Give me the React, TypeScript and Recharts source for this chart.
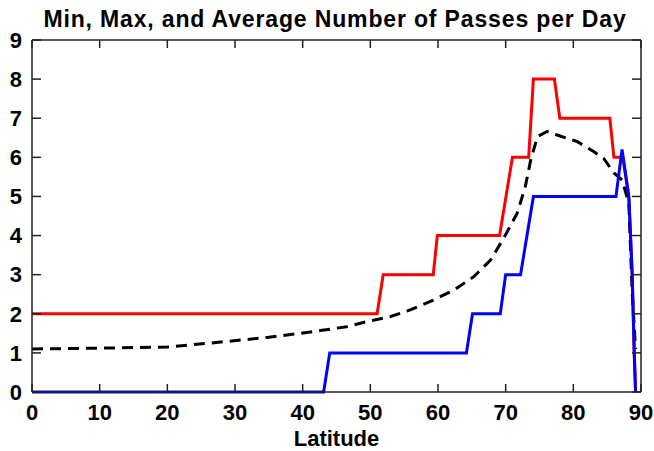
import { LineChart, Line, XAxis, YAxis } from "recharts";

// latitude (deg) / passes per day
const maxLat = [0, 51.0, 51.9, 59.3, 59.9, 69.1, 71.0, 73.4, 74.1, 77.2, 78.0, 85.4, 86.0, 87.3, 88.2, 88.7, 89.0, 89.2];
const maxPasses = [2, 2, 3, 3, 4, 4, 6, 6, 8, 8, 7, 7, 6, 6, 5, 3, 1, 0];

const minLat = [0, 43.1, 44.0, 64.2, 65.1, 69.2, 70.0, 72.2, 74.1, 86.3, 87.2, 88.2, 88.7, 89.0, 89.2];
const minPasses = [0, 0, 1, 1, 2, 2, 3, 3, 5, 5, 6.2, 5, 3, 1, 0];

const avgLat = [0, 10, 20, 28.7, 35, 39.6, 42.6, 46.5, 49.5, 53, 55.9, 59.3, 62.3, 65.3, 67.8, 69.7, 71.7, 72.9, 73.7, 74.7, 76.1, 77.6, 80.6, 83, 84.5, 86, 87.2, 88.2, 88.7, 89.2];
const avgPasses = [1.1, 1.12, 1.15, 1.29, 1.4, 1.5, 1.57, 1.67, 1.8, 1.93, 2.1, 2.35, 2.6, 2.95, 3.38, 3.93, 4.57, 5.25, 5.93, 6.53, 6.66, 6.57, 6.4, 6.15, 5.97, 5.6, 5.42, 4.83, 2.53, 1.1];

const xTicks = [0, 10, 20, 30, 40, 50, 60, 70, 80, 90];
const yTicks = [0, 1, 2, 3, 4, 5, 6, 7, 8, 9];

const toRows = (xs: number[], ys: number[]) => xs.map((lat, i) => ({ lat, v: ys[i] }));

const maxData = toRows(maxLat, maxPasses);
const minData = toRows(minLat, minPasses);
const avgData = toRows(avgLat, avgPasses);

const font = "'Liberation Sans', Arial, sans-serif";
const tickFont = { fill: "#000", fontSize: 22, fontWeight: 700, fontFamily: font };
const frame = { stroke: "#222", strokeWidth: 1.5 };
const noLabel = () => <g />;

export default function App() {
  return (
    <div style={{ position: "absolute", left: 0, top: 0, width: 654, height: 451, background: "#fff" }}>
      <div
        style={{
          position: "absolute",
          left: 0,
          top: 6,
          width: 654,
          textAlign: "center",
          fontFamily: font,
          fontWeight: 700,
          fontSize: 23,
          letterSpacing: 0.85,
          paddingLeft: 16,
          boxSizing: "border-box",
        }}
      >
        Min, Max, and Average Number of Passes per Day
      </div>
      <LineChart width={654} height={451} margin={{ top: 40, right: 13, bottom: 0, left: 0 }}>
        <XAxis
          xAxisId={0}
          type="number"
          dataKey="lat"
          domain={[0, 90]}
          ticks={xTicks}
          tickLine={false}
          axisLine={frame}
          tickSize={8}
          tickMargin={4}
          tick={tickFont}
          height={59}
          allowDuplicatedCategory={false}
          label={{ value: "Latitude", position: "insideBottom", offset: 5, style: tickFont }}
        />
        <XAxis xAxisId="bt" type="number" dataKey="lat" domain={[0, 90]} ticks={xTicks} mirror tick={noLabel} tickSize={8} axisLine={false} tickLine={frame} />
        <XAxis xAxisId="top" orientation="top" type="number" dataKey="lat" domain={[0, 90]} ticks={xTicks} mirror tick={noLabel} tickSize={8} axisLine={frame} tickLine={frame} />
        <YAxis
          yAxisId={0}
          type="number"
          domain={[0, 9]}
          ticks={yTicks}
          tickLine={false}
          axisLine={frame}
          tickSize={4}
          tickMargin={6}
          tick={tickFont}
          width={32}
        />
        <YAxis yAxisId="lt" type="number" domain={[0, 9]} ticks={yTicks} mirror tick={noLabel} tickSize={9} axisLine={false} tickLine={frame} />
        <YAxis yAxisId="rt" orientation="right" type="number" domain={[0, 9]} ticks={yTicks} mirror tick={noLabel} tickSize={9} axisLine={frame} tickLine={frame} />
        {/* invisible series so the frame axes get their scales */}
        <Line data={maxData} dataKey="v" xAxisId="bt" yAxisId="lt" stroke="none" dot={false} activeDot={false} legendType="none" isAnimationActive={false} />
        <Line data={maxData} dataKey="v" xAxisId="top" yAxisId="rt" stroke="none" dot={false} activeDot={false} legendType="none" isAnimationActive={false} />
        <Line data={maxData} dataKey="v" type="linear" stroke="#ff0000" strokeWidth={3} dot={false} isAnimationActive={false} />
        <Line data={avgData} dataKey="v" type="linear" stroke="#000" strokeWidth={3} strokeDasharray="11 7" dot={false} isAnimationActive={false} />
        <Line data={minData} dataKey="v" type="linear" stroke="#0000ff" strokeWidth={3} dot={false} isAnimationActive={false} />
      </LineChart>
    </div>
  );
}
